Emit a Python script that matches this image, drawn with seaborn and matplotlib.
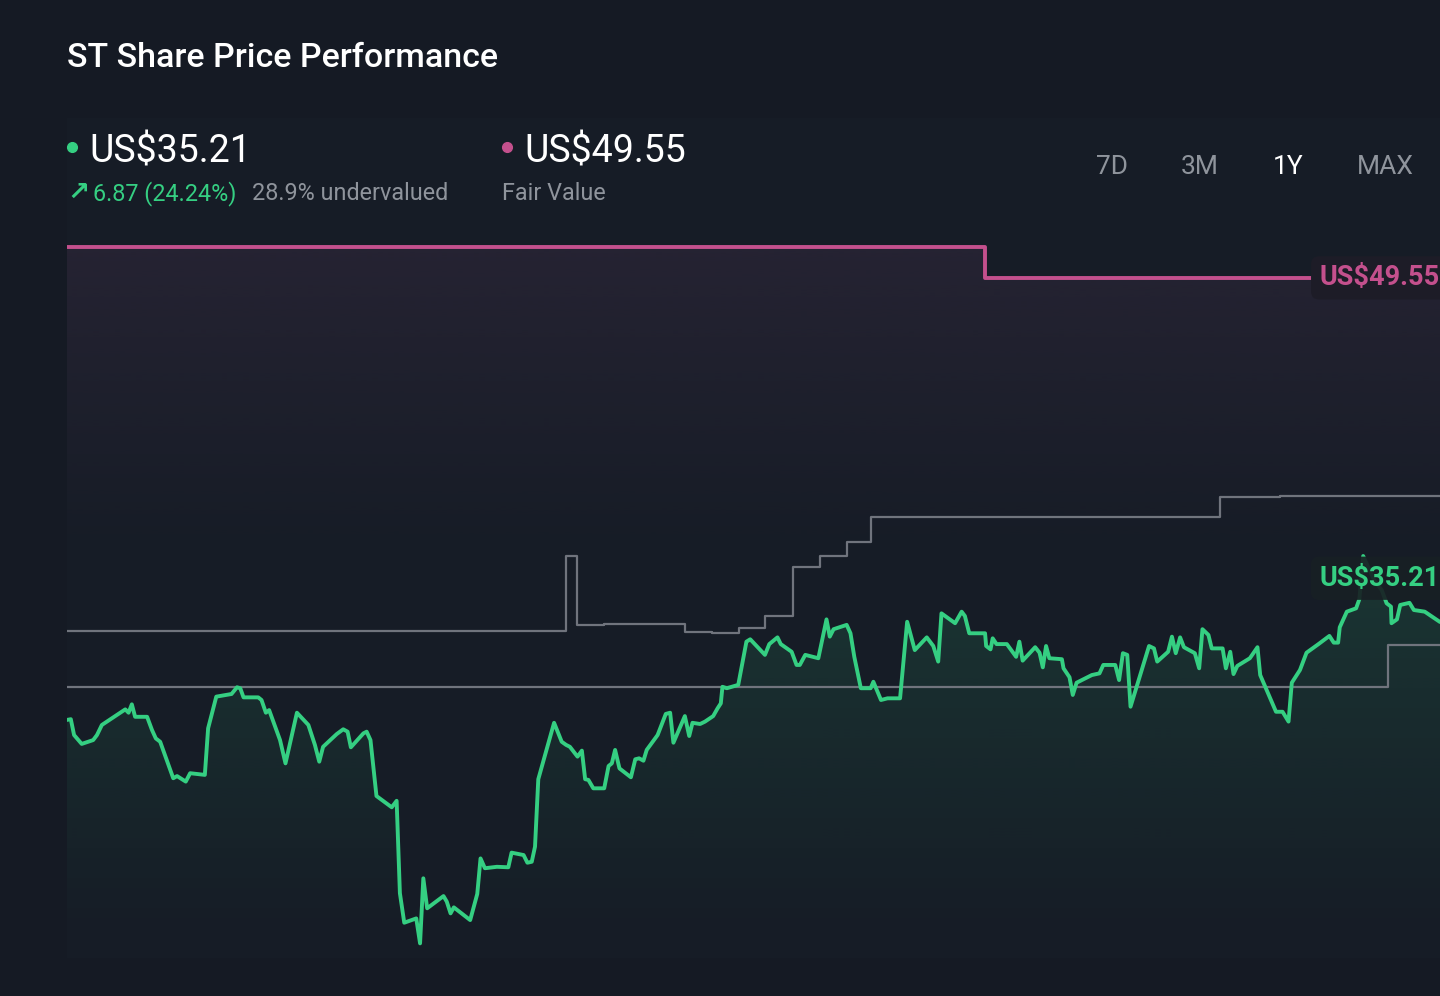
import numpy as np
import matplotlib
matplotlib.use('Agg')
import matplotlib.pyplot as plt
import matplotlib.colors as mcolors
from matplotlib.patches import Rectangle
import seaborn as sns

# === Data ===
# share price, one year of trading sessions
price_day = [0.0, 0.7, 1.3, 2.7, 4.8, 5.5, 6.4, 10.7, 11.3, 11.9, 12.5, 14.7, 15.6, 16.3, 17.1,
             19.5, 20.2, 21.8, 22.6, 25.3, 25.9, 27.4, 30.2, 31.2, 31.8, 32.4, 35.1, 35.7, 36.5,
             37.1, 39.1, 40.1, 42.2, 44.3, 45.5, 46.3, 47.0, 49.5, 50.7, 51.5, 52.1, 54.4, 55.0,
             55.7, 56.8, 59.6, 60.5, 61.1, 61.9, 64.1, 64.8, 65.4, 66.1, 69.1, 69.7, 70.4, 71.0,
             74.0, 75.3, 75.9, 76.7, 78.9, 81.0, 81.6, 83.8, 84.5, 85.3, 85.9, 86.5, 87.4, 89.4,
             90.8, 91.6, 92.3, 93.7, 94.5, 95.1, 95.7, 96.6, 98.6, 99.4, 100.0, 100.6, 101.4,
             103.5, 104.3, 105.0, 105.8, 106.4, 108.4, 109.9, 110.7, 111.3, 113.4, 114.2, 114.8,
             116.2, 117.1, 118.6, 119.4, 120.0, 120.3, 121.1, 123.2, 124.7, 125.4, 128.1, 128.9,
             130.4, 131.0, 133.0, 133.9, 134.5, 135.5, 137.9, 139.4, 140.0, 140.7, 143.1, 143.8,
             144.5, 145.7, 147.5, 148.0, 149.4, 150.6, 152.9, 154.2, 155.6, 157.8, 159.0, 159.9,
             160.5, 163.0, 164.2, 164.8, 165.6, 168.5, 168.7, 169.5, 169.9, 170.6, 172.5, 174.2,
             174.8, 175.4, 177.7, 178.5, 179.1, 179.7, 180.3, 182.6, 182.9, 184.0, 184.6, 185.3,
             188.1, 189.5, 190.2, 192.4, 193.1, 193.8, 194.6, 195.2, 198.6, 199.5, 200.1, 202.1,
             202.8, 203.5, 204.3, 205.0, 207.0, 207.8, 208.4, 209.5, 210.1, 212.1, 212.7, 213.5,
             214.1, 214.8, 217.1, 218.5, 219.0, 221.9, 223.1, 224.2, 224.8, 226.3, 227.5, 229.7,
             231.7, 232.5, 233.3, 233.6, 234.9, 236.6, 237.2, 237.9, 239.9, 241.3, 242.2, 243.0,
             243.1, 244.1, 244.7, 246.4, 247.2, 249.2, 252.0]
price = [31.13, 31.16, 30.50, 30.13, 30.29, 30.50, 30.92, 31.57, 31.43, 31.78, 31.26, 31.26, 30.71,
         30.36, 30.22, 28.70, 28.79, 28.56, 28.91, 28.84, 30.78, 32.10, 32.21, 32.49, 32.45, 32.07,
         32.07, 31.96, 31.43, 31.54, 30.29, 29.32, 31.43, 30.92, 30.09, 29.39, 30.01, 30.54, 30.74,
         30.64, 29.99, 30.57, 30.64, 30.29, 27.96, 27.49, 27.76, 23.91, 22.68, 22.86, 21.82, 24.53,
         23.28, 23.79, 23.56, 23.07, 23.32, 22.79, 23.88, 25.36, 24.95, 25.01, 24.99, 25.60, 25.50,
         25.18, 25.22, 25.85, 28.66, 29.39, 31.01, 30.22, 30.09, 30.01, 29.60, 29.85, 28.66, 28.63,
         28.28, 28.28, 29.21, 29.32, 29.88, 29.11, 28.74, 29.49, 29.53, 29.43, 29.88, 30.50, 31.38,
         31.43, 30.18, 31.29, 30.46, 31.01, 30.96, 31.06, 31.29, 31.61, 31.82, 32.51, 32.45, 32.59,
         34.39, 34.49, 33.84, 34.29, 34.57, 34.29, 33.97, 33.42, 33.42, 33.84, 33.70, 35.32, 34.60,
         34.91, 35.09, 34.74, 33.76, 32.45, 32.45, 32.72, 31.96, 32.03, 32.03, 35.22, 34.04, 34.57,
         34.21, 33.56, 35.57, 35.16, 35.64, 35.46, 34.74, 34.74, 34.21, 34.07, 34.53, 34.29, 34.29,
         33.76, 34.39, 33.60, 34.16, 33.93, 33.32, 34.21, 33.70, 33.66, 33.28, 32.91, 32.17, 32.68,
         33.00, 33.07, 33.42, 33.42, 32.79, 33.91, 33.84, 31.68, 34.21, 34.11, 33.56, 33.97, 34.60,
         33.91, 34.57, 34.16, 33.91, 33.28, 34.91, 34.67, 34.11, 34.11, 33.28, 33.97, 33.04, 33.38,
         33.70, 34.16, 33.00, 31.47, 31.47, 31.06, 32.68, 33.21, 33.93, 34.29, 34.63, 34.35, 34.35,
         34.99, 35.64, 35.78, 36.16, 37.96, 36.96, 36.54, 35.99, 35.85, 35.16, 35.32, 35.92, 36.01,
         35.71, 35.64, 35.21]

# fair value estimate (step series)
fv_day = [0, 168.5, 252]
fair_value = [50.84, 49.55, 49.55]

# analyst price target (step series)
target_day = [0, 91.6, 93.6, 98.6, 113.4, 118.4, 123.3, 128.1, 133.2, 138.2, 143.2, 147.6,
              211.6, 222.6, 252]
target = [34.84, 37.97, 35.07, 35.13, 34.78, 34.74, 34.96, 35.46, 37.51, 37.97, 38.53, 39.60,
          40.41, 40.47, 40.47]

# second reference level (step series)
ref_day = [0, 242.5, 252]
ref_level = [32.50, 34.25, 34.25]

last_price = "US$35.21"
change_text = "6.87 (24.24%)"
undervalued_text = "28.9% undervalued"
fair_text = "US$49.55"
periods = ["7D", "3M", "1Y", "MAX"]
active_period = "1Y"

# === Style ===
BG = "#151a24"
GREEN = "#35cf82"
PINK = "#c4508d"
GREY = "#70747d"
MUTED = "#8f949c"

sns.set_theme(style="dark")
plt.rcParams['font.family'] = ['Roboto', 'DejaVu Sans']

fig = plt.figure(figsize=(14.4, 9.96), dpi=100, facecolor=BG)

# faint card behind the chart
fig.patches.append(Rectangle((67 / 1440, 38 / 996), 1373 / 1440, (996 - 38 - 118) / 996,
                             transform=fig.transFigure, facecolor="#161c26", edgecolor="none",
                             zorder=-5))

ax = fig.add_axes([67 / 1440, 38 / 996, 1373 / 1440, 720 / 996])
ax.set_facecolor("none")
ax.set_xlim(0, 252)
y_lo, y_hi = 21.21, 51.21
ax.set_ylim(y_lo, y_hi)
ax.axis("off")


def gradient_under(ax, x, y, color, a_top, a_bot, top, bottom, zorder):
    """Fill below a curve with a vertical alpha gradient."""
    poly = ax.fill_between(x, y, y_lo, color="none", lw=0)
    n = 256
    rgba = np.zeros((n, 1, 4))
    rgba[..., :3] = mcolors.to_rgb(color)
    rgba[:, 0, 3] = np.clip(np.linspace(a_bot, a_top, n), 0, 1)
    im = ax.imshow(rgba, extent=[x[0], x[-1], bottom, top], origin="lower",
                   aspect="auto", zorder=zorder, interpolation="bilinear")
    im.set_clip_path(poly.get_paths()[0], transform=ax.transData)


# pink haze under fair value
fv_x = [0, 168.5, 168.5, 252]
fv_y = [50.84, 50.84, 49.55, 49.55]
gradient_under(ax, fv_x, fv_y, "#4a3450", 0.30, 0.0, 50.84, 38.0, 1)

# green area under the share price
gradient_under(ax, price_day, price, GREEN, 0.15, 0.0, max(price), 22.0, 2)

# step lines
sns.lineplot(x=ref_day, y=ref_level, ax=ax, color=GREY, lw=1.6, drawstyle="steps-post",
             estimator=None, sort=False, zorder=3)
sns.lineplot(x=target_day, y=target, ax=ax, color=GREY, lw=1.6, drawstyle="steps-post",
             estimator=None, sort=False, zorder=3)
sns.lineplot(x=fv_day, y=fair_value, ax=ax, color=PINK, lw=2.8, drawstyle="steps-post",
             estimator=None, sort=False, zorder=4)

# share price line
sns.lineplot(x=price_day, y=price, ax=ax, color=GREEN, lw=2.8, estimator=None, sort=False,
             zorder=5)
ax.set_xlim(0, 252)
ax.set_ylim(y_lo, y_hi)

# value tags at the right edge
ax.annotate(fair_text, xy=(fv_day[-1], fair_value[-1]), xytext=(-87, 0), textcoords="offset points",
            ha="left", va="center", fontsize=19.5, fontweight="bold", color=PINK, zorder=7,
            annotation_clip=False,
            bbox=dict(boxstyle="round,pad=0.3", fc="#1d1c27", ec="none"))
ax.annotate(last_price, xy=(price_day[-1], price[-1]), xytext=(-87, 31.5), textcoords="offset points",
            ha="left", va="center", fontsize=19.5, fontweight="bold", color=GREEN, zorder=7,
            annotation_clip=False,
            bbox=dict(boxstyle="round,pad=0.3", fc="#182024", ec="none", alpha=0.92))

# === Header texts ===
def fx(px):
    return px / 1440


def fy(py):
    return 1 - py / 996


fig.text(fx(67), fy(67), "ST Share Price Performance", color="white", fontsize=24.5,
         fontweight="medium", ha="left", va="baseline")

fig.lines.append(plt.Line2D([fx(72)], [fy(147)], marker="o", ms=7, color=GREEN,
                            transform=fig.transFigure))
fig.text(fx(89), fy(162), last_price, color="white", fontsize=27, ha="left", va="baseline")
fig.text(fx(67), fy(200), "↗", color=GREEN, fontsize=19, fontweight="bold", ha="left",
         va="baseline", family=["DejaVu Sans"])
fig.text(fx(93), fy(200), change_text, color=GREEN, fontsize=16.8, ha="left", va="baseline")
fig.text(fx(252), fy(200), undervalued_text, color=MUTED, fontsize=16.8, ha="left", va="baseline")

fig.lines.append(plt.Line2D([fx(507)], [fy(147)], marker="o", ms=7, color=PINK,
                            transform=fig.transFigure))
fig.text(fx(524), fy(162), fair_text, color="white", fontsize=27, ha="left", va="baseline")
fig.text(fx(502), fy(200), "Fair Value", color=MUTED, fontsize=16.8, ha="left", va="baseline")

for label, cx in zip(periods, [1112, 1200, 1288, 1385]):
    fig.text(fx(cx), fy(174), label, color="white" if label == active_period else MUTED,
             fontsize=19, ha="center", va="baseline")

fig.savefig("out.png", dpi=100, facecolor=BG)
